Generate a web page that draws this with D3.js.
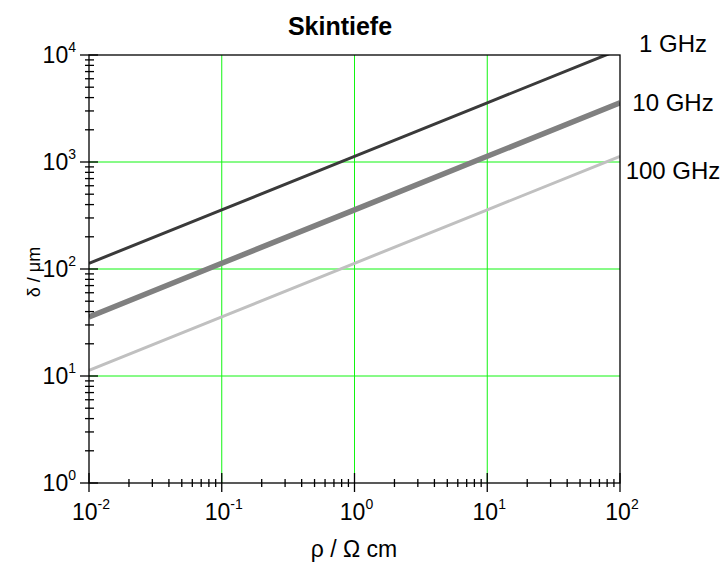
<!DOCTYPE html>
<html><head><meta charset="utf-8">
<script src="https://cdn.jsdelivr.net/npm/d3@7/dist/d3.min.js"></script>
<style>
body{margin:0;background:#fff}
svg{display:block}
text{font-family:"Liberation Sans",Arial,Helvetica,sans-serif;fill:#000}
</style>
</head><body>
<script>
// ---- data ----
const rho = [0.01, 0.1, 1, 10, 100];                 // ρ / Ω cm
const delta1GHz   = [113, 357, 1130, 3570, 11300];    // δ / µm
const delta10GHz  = [35.7, 113, 357, 1130, 3570];
const delta100GHz = [11.3, 35.7, 113, 357, 1130];
const seriesNames = ["1 GHz", "10 GHz", "100 GHz"];
const xTickExponents = [-2, -1, 0, 1, 2];
const yTickExponents = [0, 1, 2, 3, 4];

// ---- layout ----
const W = 723, H = 565;
const L = 89, R = 620, T = 55, B = 483;
const seriesStyle = [
  {color: "#3a3a3a", width: 3,   labelDy: 3},
  {color: "#808080", width: 5.5, labelDy: 8},
  {color: "#c0c0c0", width: 3,   labelDy: 23}
];
const seriesData = [delta1GHz, delta10GHz, delta100GHz];

const svg = d3.select("body").append("svg").attr("width", W).attr("height", H);
const x = d3.scaleLog().domain([0.01, 100]).range([L, R]);
const y = d3.scaleLog().domain([1, 10000]).range([B, T]);

svg.append("clipPath").attr("id", "clip")
  .append("rect").attr("x", L).attr("y", T).attr("width", R - L).attr("height", B - T);

// grid
const gridColor = "#11f511";
const g = svg.append("g");
xTickExponents.slice(1, -1).forEach(e => {
  g.append("line").attr("x1", x(10 ** e)).attr("x2", x(10 ** e)).attr("y1", T).attr("y2", B)
    .attr("stroke", gridColor).attr("stroke-width", 1);
});
yTickExponents.slice(1, -1).forEach(e => {
  g.append("line").attr("x1", L).attr("x2", R).attr("y1", y(10 ** e)).attr("y2", y(10 ** e))
    .attr("stroke", gridColor).attr("stroke-width", 1);
});

// series lines
const line = d3.line().x((d, i) => x(rho[i])).y(d => y(d));
const lg = svg.append("g").attr("clip-path", "url(#clip)");
seriesData.forEach((s, k) => {
  lg.append("path").attr("d", line(s)).attr("fill", "none")
    .attr("stroke", seriesStyle[k].color).attr("stroke-width", seriesStyle[k].width);
});

// frame
svg.append("rect").attr("x", L).attr("y", T).attr("width", R - L).attr("height", B - T)
  .attr("fill", "none").attr("stroke", "#000").attr("stroke-width", 1.3);

// ticks
const tg = svg.append("g").attr("stroke", "#000").attr("stroke-width", 1.3);
function minorValues(exps) {
  const out = [];
  for (let i = 0; i < exps.length - 1; i++)
    for (let k = 2; k <= 9; k++) out.push(k * 10 ** exps[i]);
  return out;
}
minorValues(xTickExponents).forEach(v => {
  tg.append("line").attr("x1", x(v)).attr("x2", x(v)).attr("y1", B - 4).attr("y2", B + 4);
});
xTickExponents.forEach(e => {
  tg.append("line").attr("x1", x(10 ** e)).attr("x2", x(10 ** e)).attr("y1", B - 10).attr("y2", B + 9);
});
minorValues(yTickExponents).forEach(v => {
  tg.append("line").attr("x1", L - 4).attr("x2", L + 5).attr("y1", y(v)).attr("y2", y(v));
});
yTickExponents.forEach(e => {
  tg.append("line").attr("x1", L - 9).attr("x2", L + 9).attr("y1", y(10 ** e)).attr("y2", y(10 ** e));
});

// tick labels
const fs = 23, sfs = 14;
xTickExponents.forEach(e => {
  const t = svg.append("text").attr("x", x(10 ** e) + 2).attr("y", 520)
    .attr("text-anchor", "middle").style("font-size", fs + "px");
  t.append("tspan").text("10");
  t.append("tspan").attr("dy", -11).style("font-size", sfs + "px").text(e);
});
yTickExponents.forEach(e => {
  const t = svg.append("text").attr("x", 76).attr("y", y(10 ** e) + 8)
    .attr("text-anchor", "end").style("font-size", fs + "px");
  t.append("tspan").text("10");
  t.append("tspan").attr("dy", -11).style("font-size", sfs + "px").text(e);
});

// series labels
seriesData.forEach((s, k) => {
  svg.append("text").attr("x", 673).attr("y", y(s[s.length - 1]) + seriesStyle[k].labelDy)
    .attr("text-anchor", "middle").style("font-size", "24px").text(seriesNames[k]);
});

// title and axis labels
svg.append("text").attr("x", 340).attr("y", 35).attr("text-anchor", "middle")
  .style("font-size", "25px").style("font-weight", "bold").text("Skintiefe");
svg.append("text").attr("x", 354).attr("y", 557).attr("text-anchor", "middle")
  .style("font-size", "23px").text("ρ / Ω cm");
svg.append("text").attr("transform", "translate(40,272) rotate(-90)").attr("text-anchor", "middle")
  .style("font-size", "18px").text("δ / μm");
</script>
</body></html>
